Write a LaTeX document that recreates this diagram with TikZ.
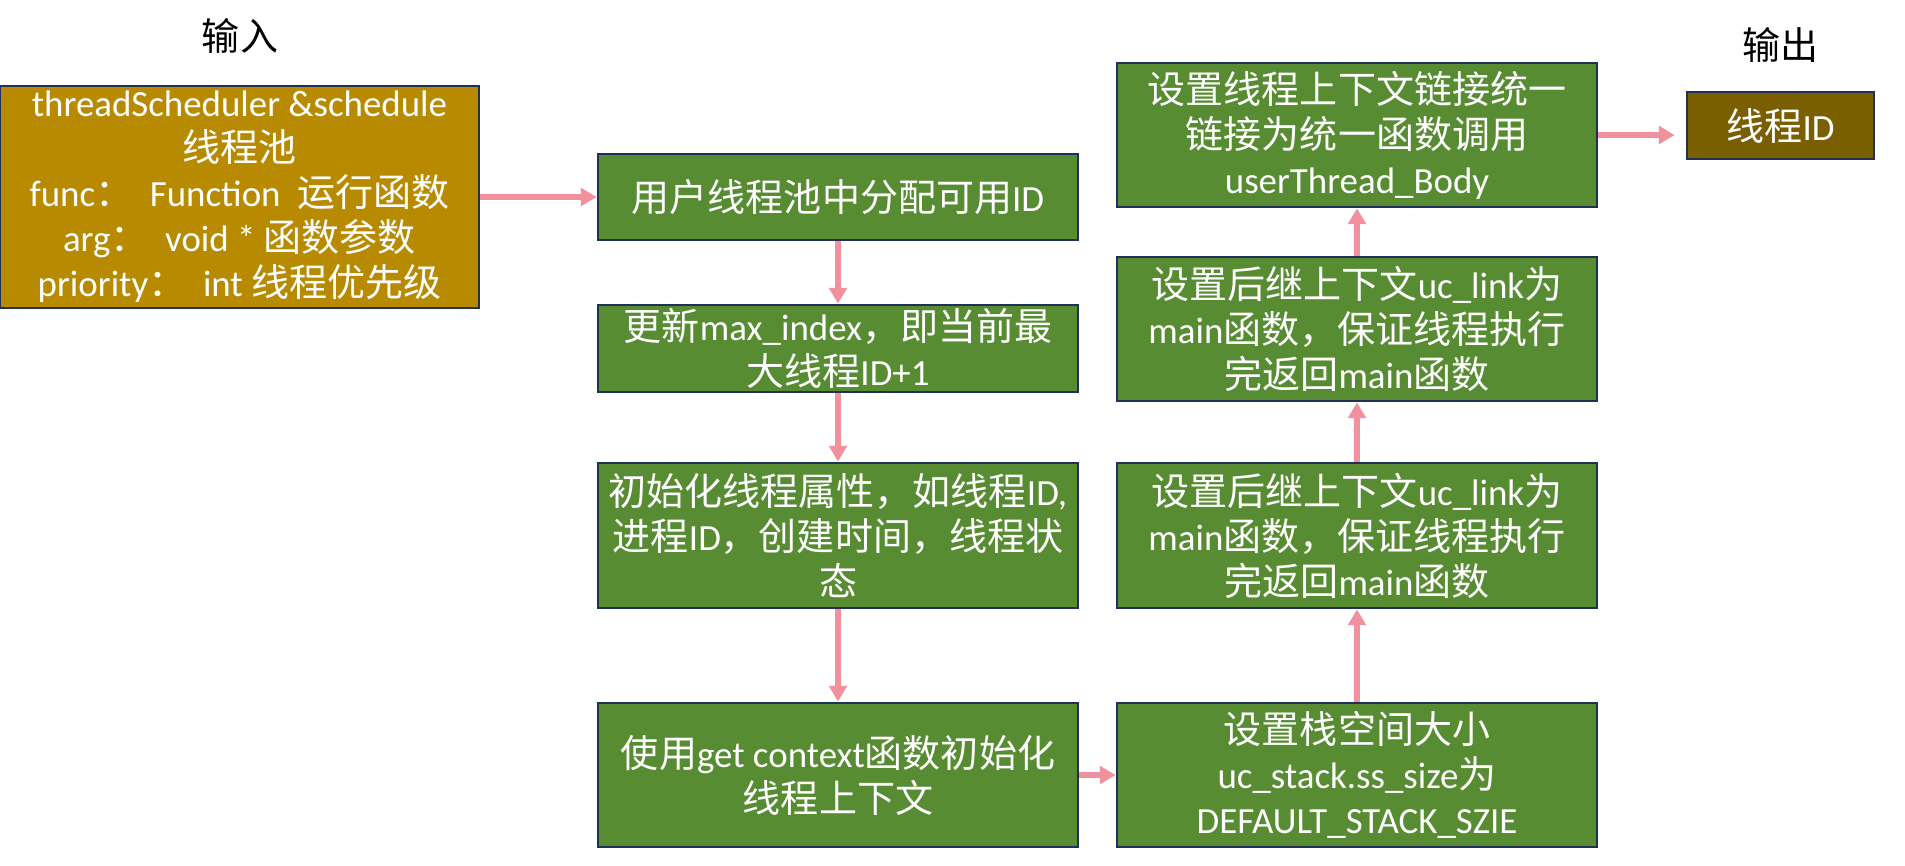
\documentclass[tikz,border=0pt]{standalone}
\usepackage{fontspec}
\setmainfont{Carlito}
\newfontfamily\cjk[Scale=1.03]{Noto Sans CJK SC}
\newcommand{\zh}[1]{{\cjk #1}}
\usetikzlibrary{arrows.meta}
\definecolor{stepgreen}{RGB}{87,140,50}
\definecolor{inputgold}{RGB}{184,138,0}
\definecolor{outputgold}{RGB}{122,95,0}
\definecolor{boxline}{RGB}{31,49,86}
\definecolor{arrowpink}{RGB}{240,145,157}
\begin{document}
\begin{tikzpicture}[font=\fontsize{21}{25.6}\selectfont]
            \useasboundingbox (0,0) rectangle (38.1,-17.32);

            \node[font=\fontsize{21}{25.6}\selectfont\cjk] (tin) at (4.8,-0.72) {输入};
            \node[font=\fontsize{21}{25.6}\selectfont\cjk] (tout) at (35.6,-0.9) {输出};

            \begin{scope}[every node/.style={rectangle,draw=boxline,line width=1.6pt,text=white,align=center,inner sep=0pt}]
                \node[fill=inputgold,minimum width=9.58cm,minimum height=4.44cm] (in) at (4.79,-3.94)
                    {threadScheduler \&schedule\\\zh{线程池}\\func\zh{：}\ \ Function\ \ \zh{运行函数}\\arg\zh{：}\ \ void * \zh{函数参数}\\priority\zh{：}\ \ int \zh{线程优先级}};
                \node[fill=outputgold,minimum width=3.74cm,minimum height=1.34cm] (out) at (35.61,-2.51) {\zh{线程}ID};
            \end{scope}
            \begin{scope}[every node/.style={rectangle,draw=boxline,line width=1.6pt,fill=stepgreen,text=white,align=center,inner sep=0pt,minimum width=9.6cm}]
                \node[minimum height=1.72cm] (1) at (16.76,-3.94) {\zh{用户线程池中分配可用}ID};
                \node[minimum height=1.74cm] (2) at (16.76,-6.97) {\zh{更新}max\_index\zh{，即当前最}\\\zh{大线程}ID+1};
                \node[minimum height=2.9cm] (3) at (16.76,-10.71) {\zh{初始化线程属性，如线程}ID,\\\zh{进程}ID\zh{，创建时间，线程状}\\\zh{态}};
                \node[minimum height=2.88cm] (4) at (16.76,-15.5) {\zh{使用}get context\zh{函数初始化}\\\zh{线程上下文}};
                \node[minimum height=2.88cm] (5) at (27.14,-15.5) {\zh{设置栈空间大小}\\uc\_stack.ss\_size\zh{为}\\DEFAULT\_STACK\_SZIE};
                \node[minimum height=2.9cm] (6) at (27.14,-10.71) {\zh{设置后继上下文}uc\_link\zh{为}\\main\zh{函数，保证线程执行}\\\zh{完返回}main\zh{函数}};
                \node[minimum height=2.88cm] (7) at (27.14,-6.58) {\zh{设置后继上下文}uc\_link\zh{为}\\main\zh{函数，保证线程执行}\\\zh{完返回}main\zh{函数}};
                \node[minimum height=2.88cm] (8) at (27.14,-2.7) {\zh{设置线程上下文链接统一}\\\zh{链接为统一函数调用}\\userThread\_Body};
            \end{scope}

            \begin{scope}[every edge/.style={draw=arrowpink,line width=3.2pt,-{Triangle[width=10pt,length=9pt]}}]
                \path
                    (in) edge (1)
                    (1) edge (2)
                    (2) edge (3)
                    (3) edge (4)
                    (4) edge (5)
                    (5) edge (6)
                    (6) edge (7)
                    (7) edge (8)
                    (8) edge [shorten >=0.22cm] (8 -| out.west);
            \end{scope}
        \end{tikzpicture}
\end{document}
